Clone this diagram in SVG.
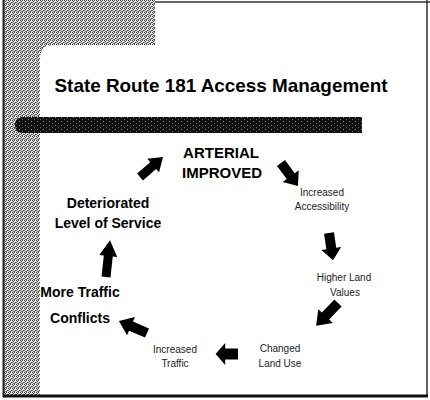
<svg xmlns="http://www.w3.org/2000/svg" xmlns:xlink="http://www.w3.org/1999/xlink" width="430" height="400" viewBox="0 0 430 400">
<style>
.b{font-family:"Liberation Sans",Arial,sans-serif;font-weight:bold;fill:#000;text-anchor:middle}
.s{font-family:"Liberation Sans",Arial,sans-serif;font-size:10px;fill:#222;text-anchor:middle}
.arrow{fill:#000}
</style>
<defs>
<pattern id="dither" width="4" height="4" patternUnits="userSpaceOnUse">
<rect width="4" height="4" fill="#e6e6e6"/>
<rect x="0" y="0" width="1" height="1" fill="#333"/>
<rect x="2" y="0" width="1" height="1" fill="#555"/>
<rect x="1" y="1" width="1" height="1" fill="#444"/>
<rect x="3" y="2" width="1" height="1" fill="#333"/>
<rect x="0" y="2" width="1" height="1" fill="#666"/>
<rect x="2" y="3" width="1" height="1" fill="#444"/>
<rect x="1" y="3" width="1" height="1" fill="#777"/>
</pattern>
<pattern id="bardots" width="6" height="4" patternUnits="userSpaceOnUse">
<rect width="6" height="4" fill="#111"/>
<rect x="1" y="1" width="1" height="1" fill="#888"/>
<rect x="4" y="3" width="1" height="1" fill="#666"/>
</pattern>
<path id="arr" d="M0,-5 H16 V-10 L28,0 L16,10 V5 H0 Z"/>
</defs>
<rect width="430" height="400" fill="#fff"/>
<g id="frame">
<path d="M3,0 H155 V45 H54 Q40,45 40,59 V396 H3 Z" fill="url(#dither)"/>
<line x1="3.5" y1="0" x2="3.5" y2="397" stroke="#222" stroke-width="2"/>
<line x1="155" y1="2" x2="430" y2="2" stroke="#333" stroke-width="1.5"/>
<line x1="427" y1="0" x2="427" y2="397" stroke="#333" stroke-width="1.5"/>
<line x1="3" y1="396" x2="428" y2="396" stroke="#111" stroke-width="3"/>
<path d="M23,117 H362 V133 H23 Q15,133 15,125 Q15,117 23,117 Z" fill="url(#bardots)"/>
</g>
<g id="title">
<text class="b" x="221" y="92" font-size="19" textLength="333" lengthAdjust="spacingAndGlyphs">State Route 181 Access Management</text>
</g>
<g id="node-arterial">
<text class="b" x="221" y="158" font-size="15">ARTERIAL</text>
<text class="b" x="222" y="178" font-size="15">IMPROVED</text>
</g>
<g id="node-accessibility">
<text class="s" x="322" y="196">Increased</text>
<text class="s" x="322" y="210">Accessibility</text>
</g>
<g id="node-landvalues">
<text class="s" x="344" y="281">Higher Land</text>
<text class="s" x="345" y="296">Values</text>
</g>
<g id="node-landuse">
<text class="s" x="280" y="352" font-size="10.5">Changed</text>
<text class="s" x="280" y="367" font-size="10.5">Land Use</text>
</g>
<g id="node-traffic">
<text class="s" x="175" y="353">Increased</text>
<text class="s" x="175" y="367">Traffic</text>
</g>
<g id="node-conflicts">
<text class="b" x="80" y="297" font-size="14">More Traffic</text>
<text class="b" x="80" y="323" font-size="14">Conflicts</text>
</g>
<g id="node-service">
<text class="b" x="108" y="208" font-size="14">Deteriorated</text>
<text class="b" x="108" y="228" font-size="14">Level of Service</text>
</g>
<g id="connectors" class="arrow">
<use xlink:href="#arr" transform="translate(140,177) rotate(-41) scale(1.09,0.9)"/>
<use xlink:href="#arr" transform="translate(281,163) rotate(53.5) scale(1.02,1)"/>
<use xlink:href="#arr" transform="translate(329,233) rotate(81.6) scale(0.98,1)"/>
<use xlink:href="#arr" transform="translate(338,303) rotate(133.7) scale(1.13,1)"/>
<use xlink:href="#arr" transform="translate(238,354) rotate(180) scale(0.8,1.1)"/>
<use xlink:href="#arr" transform="translate(147,333) rotate(-156.8) scale(1.09,1)"/>
<use xlink:href="#arr" transform="translate(106,277) rotate(-83.8) scale(1.32,0.9)"/>
</g>
</svg>
